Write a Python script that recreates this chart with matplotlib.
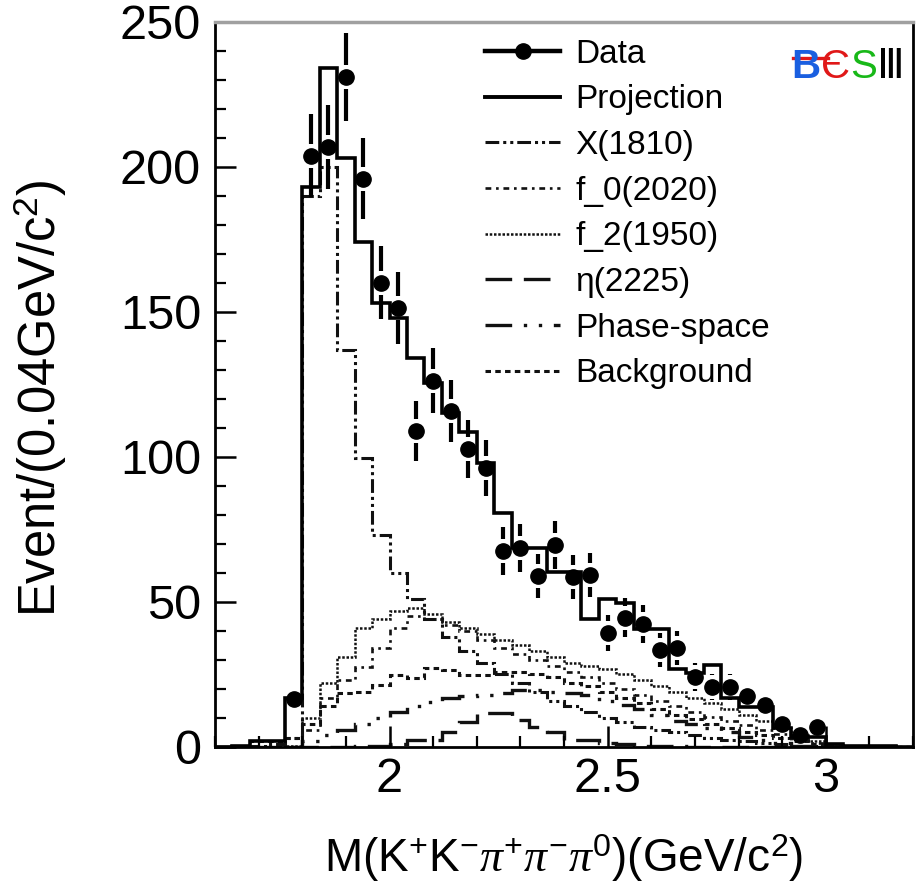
import numpy as np
import matplotlib
matplotlib.use("Agg")
import matplotlib.pyplot as plt
from matplotlib.lines import Line2D
from matplotlib.ticker import MultipleLocator

plt.rcParams['font.family'] = ['Liberation Sans', 'DejaVu Sans']
plt.rcParams['mathtext.fontset'] = 'custom'
plt.rcParams['mathtext.rm'] = 'Liberation Sans'
plt.rcParams['mathtext.it'] = 'Liberation Serif:italic'
plt.rcParams['mathtext.bf'] = 'Liberation Sans:bold'

# ---------------- data ----------------
bin_edges = np.linspace(1.6, 3.2, 41)

data_x = [1.78, 1.82, 1.86, 1.90, 1.94, 1.98, 2.02, 2.06, 2.10, 2.14, 2.18,
          2.22, 2.26, 2.30, 2.34, 2.38, 2.42, 2.46, 2.50, 2.54, 2.58, 2.62,
          2.66, 2.70, 2.74, 2.78, 2.82, 2.86, 2.90, 2.94, 2.98]
data_y = [16.5, 203.8, 206.9, 231, 195.9, 160, 151.4, 109, 126.2, 115.9, 102.8,
          96.2, 67.6, 68.6, 59, 69.7, 58.6, 59.3, 39.3, 44.5, 42.4, 33.4,
          34.1, 24.1, 20.7, 20.7, 17.6, 14.5, 7.9, 4.1, 6.9]
data_err = [4.1, 14.3, 14.4, 15.2, 14.0, 12.6, 12.3, 10.4, 11.2, 10.8, 10.1,
            9.8, 8.2, 8.3, 7.7, 8.3, 7.7, 7.7, 6.3, 6.7, 6.5, 5.8,
            5.8, 4.9, 4.5, 4.5, 4.2, 3.8, 2.8, 2.0, 2.6]

projection = [0, 0.5, 2, 2, 17, 193, 234, 203, 174, 153,
              148, 134, 125.5, 115, 108.6, 98, 80.7, 68.6, 68.6, 60.3,
              60.3, 44, 51, 49.6, 40.7, 40.7, 27, 25.5, 28.3, 17,
              13.8, 13.8, 6.5, 3.5, 3.5, 1, 0.5, 0.3, 0.2, 0.1]
x1810 = [0, 0, 0.5, 1, 3, 190, 200, 137, 99.6, 73,
         60, 51, 44, 38, 33, 29, 25, 22, 19, 16,
         14, 12, 10, 8.5, 7, 6, 5, 4, 3, 2.5,
         2, 1.5, 1, 0.5, 0.2, 0, 0, 0, 0, 0]
f0_2020 = [0, 0, 0, 0, 0, 6, 17, 23, 27.6, 34,
           41, 45, 44, 42, 40, 37, 34, 32, 30, 28,
           26, 24, 22, 20, 18, 16, 14, 12, 10.5, 9,
           7.5, 6, 4.5, 3, 1.5, 0.5, 0, 0, 0, 0]
f2_1950 = [0, 0, 0, 0, 0.5, 10, 22, 31, 41, 44,
           47, 48, 46, 43, 41, 39, 37, 35, 33, 31,
           29, 28, 27, 25, 23, 21, 19, 17, 15, 13,
           11, 9, 6.5, 4, 2, 0.5, 0, 0, 0, 0]
eta2225 = [0, 0, 0, 0, 0, 0, 0, 0, 0.3, 0.5,
           1, 2.4, 2.4, 5.2, 8.6, 11.7, 11.7, 9.3, 7, 5.2,
           2.4, 2.4, 1.5, 1, 0.5, 0.3, 0.2, 0, 0, 0,
           0, 0, 0, 0, 0, 0, 0, 0, 0, 0]
phase_space = [0, 0, 0, 0, 0, 2, 4, 6, 8, 10,
               12, 14, 15.5, 17, 17.5, 18, 18.5, 19.5, 19.5, 19,
               18.5, 18, 16, 14.5, 13, 11, 9, 8, 6.5, 5,
               3.5, 2.5, 1.5, 0.5, 0.2, 0, 0, 0, 0, 0]
background = [0, 0.5, 2, 2, 3, 8, 14, 18.6, 19, 21.4,
              24.8, 23.8, 27.2, 26.6, 24.8, 24.8, 26, 26, 25, 24,
              22, 21, 19, 17, 15, 13, 11, 9.5, 8, 6.5,
              5, 4, 3, 2, 1, 0.5, 0.3, 0.2, 0.1, 0]

legend_labels = ['Data', 'Projection', 'X(1810)', 'f_0(2020)', 'f_2(1950)',
                 'η(2225)', 'Phase-space', 'Background']

# ---------------- figure ----------------
fig = plt.figure(figsize=(9.22, 8.92), dpi=100)
ax = fig.add_axes([0.2332, 0.1626, 0.7571, 0.8128])

comp_color = '#111111'
styles = {
    'X(1810)': dict(ls=(0, (4.5, 1.3, 1, 1.3, 1, 1.3)), lw=2.2),
    'f_0(2020)': dict(ls=(0, (2.2, 1.8, 1, 1.8)), lw=1.9),
    'f_2(1950)': dict(ls=(0, (1, 0.7)), lw=1.8),
    'η(2225)': dict(ls=(0, (8, 3.5)), lw=2.4),
    'Phase-space': dict(ls=(0, (8, 3.5, 1, 3.5, 1, 3.5)), lw=2.4),
    'Background': dict(ls=(0, (1.8, 1.4)), lw=2.2),
}
comps = [('X(1810)', x1810), ('f_0(2020)', f0_2020), ('f_2(1950)', f2_1950),
         ('η(2225)', eta2225), ('Phase-space', phase_space),
         ('Background', background)]
handles = {}
for name, vals in comps:
    st = styles[name]
    ax.stairs(vals, bin_edges, baseline=None, color=comp_color,
              linestyle=st['ls'], linewidth=st['lw'])
    handles[name] = Line2D([0], [0], color=comp_color, linestyle=st['ls'],
                           linewidth=st['lw'])

ax.stairs(projection, bin_edges, baseline=None, color='black', linewidth=2.6)
handles['Projection'] = Line2D([0], [0], color='black', linewidth=2.8)

# data with error bars leaving a gap around the marker
dx = np.array(data_x)
dy = np.array(data_y)
de = np.array(data_err)
gap = 4.2
show = de > gap
ax.vlines(dx[show], dy[show] + gap, dy[show] + de[show], color='black', linewidth=3.0)
ax.vlines(dx[show], dy[show] - de[show], dy[show] - gap, color='black', linewidth=3.0)
ax.plot(dx, dy, 'o', color='black', markersize=11, zorder=5)
handles['Data'] = Line2D([0], [0], color='black', linewidth=3.2, marker='o',
                         markersize=11)

ax.set_xlim(1.6, 3.2)
ax.set_ylim(0, 250)
ax.xaxis.set_minor_locator(MultipleLocator(0.1))
ax.yaxis.set_major_locator(MultipleLocator(50))
ax.yaxis.set_minor_locator(MultipleLocator(10))
ax.set_xticks([2.0, 2.5, 3.0])
ax.set_xticklabels(['2', '2.5', '3'])
ax.tick_params(axis='both', which='major', direction='in', length=15, width=1.8,
               labelsize=35, pad=7, top=False, right=False)
ax.tick_params(axis='both', which='minor', direction='in', length=8, width=1.6,
               top=False, right=False)
ax.tick_params(axis='y', which='major', pad=10)

for side in ['left', 'bottom', 'right']:
    ax.spines[side].set_linewidth(2.0)
    ax.spines[side].set_color('black')
ax.spines['top'].set_linewidth(2.5)
ax.spines['top'].set_color('#a0a0a0')

ax.set_ylabel(r'Event/(0.04GeV/c$^{2}$)', fontsize=36.5)
ax.yaxis.set_label_coords(-0.211, 0.481)
ax.set_xlabel(r'M(K$^{+}$K$^{-}$$\pi^{+}\pi^{-}\pi^{0}$)(GeV/c$^{2}$)',
              fontsize=33)
ax.xaxis.set_label_coords(0.5, -0.118)

leg = ax.legend([handles[k] for k in legend_labels], legend_labels,
                loc='upper left', bbox_to_anchor=(0.387, 0.977), frameon=False,
                fontsize=24, handlelength=2.25, handletextpad=0.45,
                labelspacing=0.44, borderpad=0, borderaxespad=0, numpoints=1)

# BESIII logo, pieces placed one after another
fig.canvas.draw()
renderer = fig.canvas.get_renderer()
logo_parts = [('B', '#1a5fe0', 'bold'), ('Є', '#e01818', 'normal'),
              ('S', '#18b818', 'normal'), ('Ⅲ', 'black', 'normal')]
x_px = 791.0
base_y = 1 - 78 / 892
for txt, col, wt in logo_parts:
    t = fig.text(x_px / 922, base_y, txt, color=col, fontsize=29,
                 fontweight=wt, ha='left', va='baseline',
                 family=['DejaVu Sans'] if txt == 'Ⅲ' else ['Liberation Sans', 'DejaVu Sans'])
    bb = t.get_window_extent(renderer)
    x_px = bb.x1 + 0.5
fig.add_artist(Line2D([793 / 922, 828 / 922], [1 - 58 / 892, 1 - 58 / 892],
                      color='#e01818', linewidth=2.4, transform=fig.transFigure))

fig.savefig('out.png', dpi=100)
